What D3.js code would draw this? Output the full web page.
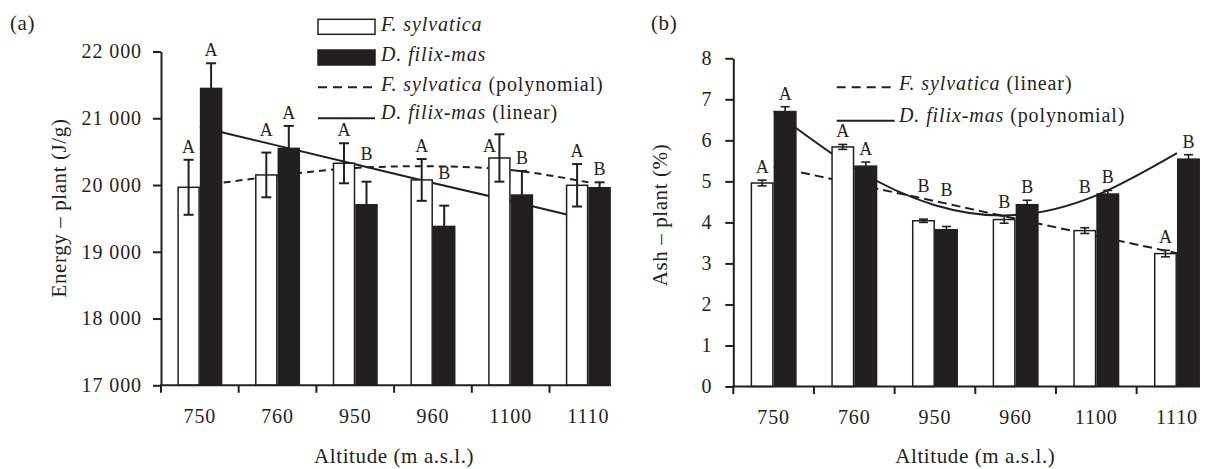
<!DOCTYPE html>
<html><head><meta charset="utf-8">
<script src="https://cdn.jsdelivr.net/npm/d3@7"></script>
<style>
body{margin:0;background:#fff;}
svg text{font-family:"Liberation Serif","Times New Roman",serif;fill:#231f20;}
</style></head><body>
<svg id="c" width="1213" height="469"></svg>
<script>
// ---------- data ----------
const altitudes = ["750","760","950","960","1100","1110"];
const seriesKeys = ["F","D"];
// panel (a) energy
const energyF      = [19966, 20151, 20326, 20076, 20405, 19996];
const energyFErr   = [412, 335, 300, 313, 355, 318];
const energyD      = [21458, 20560, 19716, 19391, 19861, 19971];
const energyDErr   = [366, 325, 334, 300, 350, 70];
const energyFLetters = ["A","A","A","A","A","A"];
const energyDLetters = ["A","A","B","B","B","B"];
const energyFPoly    = [19990, 20140, 20255, 20280, 20225, 20040];
const energyDLinear  = [20870, 20590, 20310, 20030, 19760, 19480];
const energyTicks    = [17000, 18000, 19000, 20000, 21000, 22000];
// panel (b) ash
const ashF      = [4.96, 5.84, 4.04, 4.07, 3.80, 3.24];
const ashFErr   = [0.07, 0.06, 0.04, 0.09, 0.07, 0.08];
const ashD      = [6.72, 5.39, 3.84, 4.45, 4.71, 5.56];
const ashDErr   = [0.10, 0.08, 0.06, 0.09, 0.07, 0.09];
const ashFLetters = ["A","A","B","B","B","A"];
const ashDLetters = ["A","A","B","B","B","B"];
const ashFLinear  = [5.36, 4.94, 4.52, 4.09, 3.67, 3.25];
const ashDPoly    = [6.71, 5.32, 4.42, 4.18, 4.66, 5.69];
const ashTicks    = [0, 1, 2, 3, 4, 5, 6, 7, 8];

// ---------- drawing ----------
const INK = "#231f20";
const svg = d3.select("#c");
const fmtThousands = v => d3.format(",")(v).replace(/,/g, " ");

function yAtX(node, xq) {
  const L = node.getTotalLength();
  let best = null, bd = Infinity;
  for (let i = 0; i <= 400; i++) {
    const p = node.getPointAtLength(L * i / 400);
    const d = Math.abs(p.x - xq);
    if (d < bd) { bd = d; best = p; }
  }
  return bd < 2 ? best.y : null;
}
function overlaps(a, b) {
  return a.x < b.x + b.width && b.x < a.x + a.width && a.y < b.y + b.height && b.y < a.y + a.height;
}

function panel(cfg) {
  const g = svg.append("g");
  const x = d3.scaleBand().domain(altitudes).range(cfg.xRange);
  const bw = x.bandwidth();
  const sub = d3.scaleBand().domain(seriesKeys).range([bw / 2 - cfg.barW, bw / 2 + cfg.barW]);
  const y = d3.scaleLinear().domain(cfg.yDomain).range(cfg.yRange);
  const cx = a => x(a) + bw / 2;

  // legend
  const lg = g.append("g");
  const legendBoxes = [];
  cfg.legend.forEach(it => {
    if (it.type === "rect") {
      lg.append("rect").attr("x", it.x).attr("y", it.y).attr("width", 57).attr("height", 15)
        .attr("fill", it.fill).attr("stroke", INK).attr("stroke-width", 1.5);
    } else {
      lg.append("line").attr("x1", it.x).attr("x2", it.x + it.w).attr("y1", it.y).attr("y2", it.y)
        .attr("stroke", INK).attr("stroke-width", 2).attr("stroke-dasharray", it.dash || null);
    }
    const t = lg.append("text").attr("x", it.tx).attr("y", it.ty).attr("font-size", 20)
      .style("letter-spacing", "0.9px");
    t.append("tspan").attr("font-style", "italic").text(it.name);
    if (it.suffix) t.append("tspan").text(" " + it.suffix);
    legendBoxes.push(t.node().getBBox());
  });

  // trend lines (behind bars)
  const paths = cfg.trends.map(t => {
    const line = d3.line().x((d, i) => cx(altitudes[i])).y(d => y(d)).curve(t.curve);
    return g.append("path").datum(t.values)
      .attr("d", line).attr("fill", "none").attr("stroke", INK)
      .attr("stroke-width", 2).attr("stroke-dasharray", t.dash || null).node();
  });

  // bars
  const series = [
    { key: "F", vals: cfg.F, errs: cfg.FErr, letters: cfg.FLetters },
    { key: "D", vals: cfg.D, errs: cfg.DErr, letters: cfg.DLetters }
  ];
  const y0 = y(cfg.yDomain[0]);
  series.forEach(s => {
    g.selectAll(null).data(s.vals).join("rect")
      .attr("x", (d, i) => x(altitudes[i]) + sub(s.key) + (s.key === "F" ? 0.75 : 0))
      .attr("y", d => y(d))
      .attr("width", sub.bandwidth() - (s.key === "F" ? 1.5 : 0))
      .attr("height", d => y0 - y(d))
      .attr("fill", s.key === "F" ? "#fff" : INK)
      .attr("stroke", s.key === "F" ? INK : "none")
      .attr("stroke-width", 1.5);
  });
  // error bars + letters
  series.forEach(s => {
    s.vals.forEach((v, i) => {
      const xc = x(altitudes[i]) + sub(s.key) + sub.bandwidth() / 2;
      const e = s.errs[i];
      const yt = y(v + e), yb = y(v - e);
      g.append("line").attr("x1", xc).attr("x2", xc).attr("y1", yt).attr("y2", yb)
        .attr("stroke", INK).attr("stroke-width", cfg.errW);
      [yt, yb].forEach(yy => g.append("line")
        .attr("x1", xc - cfg.cap / 2).attr("x2", xc + cfg.cap / 2)
        .attr("y1", yy).attr("y2", yy).attr("stroke", INK).attr("stroke-width", cfg.errW));
      let top = yt;
      paths.forEach(p => {
        const ly = yAtX(p, xc);
        if (ly !== null && ly < yt && ly > yt - 35) top = Math.min(top, ly);
      });
      const lt = g.append("text").attr("x", xc).attr("y", top - 7)
        .attr("text-anchor", "middle").attr("font-size", 18).text(s.letters[i]);
      const bb = lt.node().getBBox();
      if (legendBoxes.some(b => overlaps(bb, b))) {
        lt.attr("x", xc - 10).attr("y", yt + 18);
      }
    });
  });

  // y axis
  const ya = g.append("g").attr("transform", `translate(${cfg.xRange[0]},0)`)
    .call(d3.axisLeft(y).tickValues(cfg.ticks).tickSize(8).tickSizeOuter(0)
      .tickPadding(cfg.yPad).tickFormat(cfg.tickFmt));
  ya.select(".domain").attr("stroke", INK).attr("stroke-width", 2);
  ya.selectAll(".tick line").attr("stroke", INK).attr("stroke-width", 2);
  ya.selectAll(".tick text").attr("font-size", 20).attr("fill", INK)
    .style("letter-spacing", "0.9px").attr("font-family", "Liberation Serif");

  // x axis
  const last = altitudes[altitudes.length - 1];
  const xEnd = x(last) + sub("D") + sub.bandwidth();
  g.append("line").attr("x1", cfg.xRange[0] - 1).attr("x2", xEnd)
    .attr("y1", y0).attr("y2", y0).attr("stroke", INK).attr("stroke-width", 2);
  g.selectAll(null).data(altitudes).join("line")
    .attr("x1", d => x(d)).attr("x2", d => x(d)).attr("y1", y0).attr("y2", y0 + 7.5)
    .attr("stroke", INK).attr("stroke-width", 2);
  g.selectAll(null).data(altitudes).join("text")
    .attr("x", d => cx(d)).attr("y", y0 + 37.5).attr("text-anchor", "middle")
    .attr("font-size", 20).style("letter-spacing", "0.9px").text(d => d);

  // axis titles
  const xr = x.range();
  g.append("text").attr("x", (xr[0] + xr[1]) / 2).attr("y", 463)
    .attr("text-anchor", "middle").attr("font-size", 21).style("letter-spacing", "0.6px")
    .text("Altitude (m a.s.l.)");
  g.append("text").attr("transform", `translate(${cfg.yTitleX},${cfg.yTitleY}) rotate(-90)`)
    .attr("text-anchor", "middle").attr("font-size", 21).style("letter-spacing", "0.6px")
    .text(cfg.yTitle);
  g.append("text").attr("x", cfg.tagX).attr("y", 30).attr("font-size", 21)
    .style("letter-spacing", "0.6px").text(cfg.tag);
}

panel({
  xRange: [161, 627.2], barW: 22.5,
  yDomain: [17000, 22000], yRange: [385.3, 51.5],
  F: energyF, FErr: energyFErr, D: energyD, DErr: energyDErr,
  FLetters: energyFLetters, DLetters: energyDLetters,
  trends: [
    { values: energyFPoly, curve: d3.curveNatural, dash: "7,5" },
    { values: energyDLinear, curve: d3.curveLinear }
  ],
  ticks: energyTicks, tickFmt: fmtThousands, yPad: 11,
  errW: 2, cap: 10,
  yTitle: "Energy \u2013 plant (J/g)", yTitleX: 65.5, yTitleY: 208,
  tag: "(a)", tagX: 10,
  legend: [
    { type: "rect", x: 318, y: 19.3, fill: "#fff", tx: 381, ty: 31, name: "F. sylvatica" },
    { type: "rect", x: 318, y: 50, fill: INK, tx: 381, ty: 61, name: "D. filix-mas" },
    { type: "line", x: 318, w: 57, y: 87.3, dash: "9,6", tx: 381, ty: 91, name: "F. sylvatica", suffix: "(polynomial)" },
    { type: "line", x: 318, w: 57, y: 118.3, tx: 381, ty: 119, name: "D. filix-mas", suffix: "(linear)" }
  ]
});

panel({
  xRange: [733.3, 1217.3], barW: 23,
  yDomain: [0, 8], yRange: [386.5, 58.3],
  F: ashF, FErr: ashFErr, D: ashD, DErr: ashDErr,
  FLetters: ashFLetters, DLetters: ashDLetters,
  trends: [
    { values: ashFLinear, curve: d3.curveLinear, dash: "9,5" },
    { values: ashDPoly, curve: d3.curveNatural }
  ],
  ticks: ashTicks, tickFmt: d3.format("d"), yPad: 13,
  errW: 1.6, cap: 9,
  yTitle: "Ash \u2013 plant (%)", yTitleX: 667, yTitleY: 215,
  tag: "(b)", tagX: 651,
  legend: [
    { type: "line", x: 836.7, w: 54, y: 87.3, dash: "9,6", tx: 899, ty: 89.5, name: "F. sylvatica", suffix: "(linear)" },
    { type: "line", x: 836.7, w: 58, y: 120.7, tx: 899, ty: 121.5, name: "D. filix-mas", suffix: "(polynomial)" }
  ]
});
</script>
</body></html>
